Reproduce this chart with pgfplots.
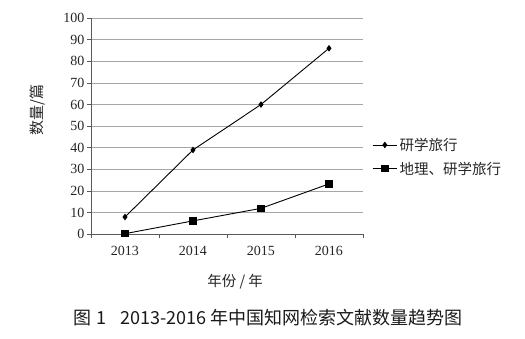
\documentclass[border=0pt]{standalone}
\usepackage{fontspec}
\setmainfont{Liberation Serif}
\newfontfamily\cjk{Noto Sans CJK SC}
\usepackage{pgfplots}
\pgfplotsset{compat=1.18}
\begin{document}
\begin{tikzpicture}
\useasboundingbox (0pt,0pt) rectangle (525pt,338pt);
\begin{axis}[
  at={(91pt,103.7pt)}, anchor=south west,
  scale only axis, width=272pt, height=216.3pt,
  xmin=-0.5, xmax=3.5, ymin=0, ymax=100,
  clip=false,
  axis x line*=bottom, axis y line*=left,
  axis line style={draw=black!65, line width=0.6pt},
  xtick={0,1,2,3}, xticklabels={2013,2014,2015,2016},
  minor xtick={-0.5,0.5,1.5,2.5,3.5},
  major x tick style={draw=none},
  minor x tick style={draw=black!65, line width=0.6pt},
  ytick={0,10,...,100},
  y tick style={draw=black!65, line width=0.6pt},
  tick align=outside,
  major tick length=4pt, minor tick length=4pt,
  ymajorgrids=true,
  grid style={draw=black!35, line width=0.6pt},
  /pgf/number format/assume math mode=true,
  ticklabel style={font=\fontsize{14}{16}\selectfont, text=black!85},
  xticklabel style={yshift=-4pt},
  yticklabel style={xshift=1pt},
  xlabel={\cjk 年份 / 年},
  xlabel style={at={(axis description cs:0.53,-0.22)}, anchor=center, font=\fontsize{14.5}{16}\selectfont, text=black!85},
  ylabel={\cjk 数量/篇},
  ylabel style={at={(axis description cs:-0.195,0.575)}, anchor=center, font=\fontsize{15}{17}\selectfont, text=black!85},
  legend style={at={(axis description cs:1.033,0.358)}, anchor=west, draw=none, fill=none, inner sep=0pt,
    font=\cjk\fontsize{14.5}{17}\selectfont, text=black!85, row sep=6pt},
  legend cell align=left,
  legend image code/.code={\draw[mark repeat=2,mark phase=2] plot coordinates {(0cm,0cm)(0.43cm,0cm)(0.86cm,0cm)};},
]
\addplot[black, line width=0.9pt, mark=diamond*, mark size=2.6pt, mark options={solid}]
  coordinates {(0,8)(1,39)(2,60)(3,86)};
\addlegendentry{研学旅行}
\addplot[black, line width=0.9pt, mark=square*, mark size=3.1pt, mark options={solid}]
  coordinates {(0,0.3)(1,6.2)(2,12)(3,23.3)};
\addlegendentry{地理、研学旅行}
\end{axis}
\node[font=\cjk\fontsize{18}{21}\selectfont, text=black!90, anchor=west, inner sep=0pt] at (73pt,20pt) {图\hspace{0.3em}1\hspace{0.75em}2013-2016 年中国知网检索文献数量趋势图};
\end{tikzpicture}
\end{document}
